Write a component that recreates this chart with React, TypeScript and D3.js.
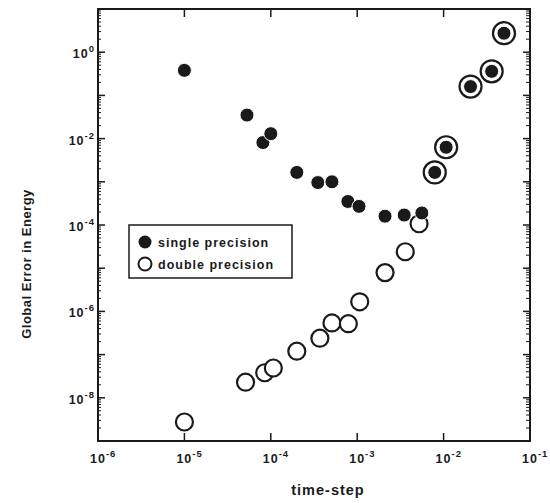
import React from 'react';
import * as d3 from 'd3';

// time-step values and errors
const singleStep = [1e-5, 5.3e-5, 8.1e-5, 1.0e-4, 2.0e-4, 3.5e-4, 5.1e-4, 7.8e-4, 1.05e-3, 2.1e-3, 3.5e-3, 5.6e-3, 7.9e-3, 1.07e-2, 2.05e-2, 3.6e-2, 5.0e-2];
const singleErr = [0.38, 0.035, 8.1e-3, 1.3e-2, 1.65e-3, 9.6e-4, 1.0e-3, 3.5e-4, 2.7e-4, 1.6e-4, 1.7e-4, 1.9e-4, 1.65e-3, 6.3e-3, 0.16, 0.36, 2.75];

const doubleStep = [1e-5, 5.1e-5, 8.5e-5, 1.07e-4, 2.0e-4, 3.7e-4, 5.1e-4, 7.9e-4, 1.07e-3, 2.1e-3, 3.6e-3, 5.2e-3, 7.9e-3, 1.07e-2, 2.05e-2, 3.6e-2, 5.0e-2];
const doubleErr = [2.75e-9, 2.3e-8, 3.8e-8, 4.9e-8, 1.2e-7, 2.4e-7, 5.4e-7, 5.2e-7, 1.67e-6, 7.9e-6, 2.4e-5, 1.07e-4, 1.65e-3, 6.3e-3, 0.16, 0.36, 2.75];

const xTickExp = [-6, -5, -4, -3, -2, -1];
const yTickExp = [1, 0, -1, -2, -3, -4, -5, -6, -7, -8, -9];
const yLabelExp = [0, -2, -4, -6, -8];

const legendItems = ['single precision', 'double precision'];

const W = 550;
const H = 503;
const margin = { top: 9, right: 20, bottom: 62, left: 98 };
const ink = '#1a1a1a';
const font = '"Liberation Sans", Arial, sans-serif';

const App = () => {
  const x = d3.scaleLog().domain([1e-6, 1e-1]).range([margin.left, W - margin.right]);
  const y = d3.scaleLog().domain([1e-9, 1e1]).range([H - margin.bottom, margin.top]);
  const [x0, x1] = x.range();
  const [y0, y1] = y.range();

  const single = singleStep.map((s, i) => ({ s, e: singleErr[i] }));
  const dbl = doubleStep.map((s, i) => ({ s, e: doubleErr[i] }));
  // double points sitting on a single point get drawn as a ring
  const overlaps = (d) => single.some(p => p.s === d.s && p.e === d.e);

  const minorY = [];
  yTickExp.slice(1).forEach(ex => {
    for (let k = 2; k <= 9; k++) minorY.push(k * Math.pow(10, ex));
  });

  return (
    <svg width={W} height={H} style={{ position: 'absolute', left: 0, top: 0, background: '#fff' }}>
      {/* minor y ticks */}
      {minorY.map((v, i) => (
        <g key={'m' + i}>
          <line x1={x0} x2={x0 + 3} y1={y(v)} y2={y(v)} stroke={ink} strokeWidth={1} />
          <line x1={x1} x2={x1 - 4} y1={y(v)} y2={y(v)} stroke={ink} strokeWidth={1} />
        </g>
      ))}
      {/* major y ticks */}
      {yTickExp.map(ex => {
        const yy = y(Math.pow(10, ex));
        return (
          <g key={'y' + ex}>
            <line x1={x0} x2={x0 + 7} y1={yy} y2={yy} stroke={ink} strokeWidth={1.5} />
            <line x1={x1} x2={x1 - 7} y1={yy} y2={yy} stroke={ink} strokeWidth={1.5} />
          </g>
        );
      })}
      {yLabelExp.map(ex => (
        <text key={'yl' + ex} x={x0 - 3} y={y(Math.pow(10, ex)) + 6} textAnchor="end"
          fontFamily={font} fontWeight="bold" fontSize={12.5} letterSpacing={1} fill={ink}>
          10<tspan fontSize={9.5} dy={-6}>{ex === 0 ? '0' : ex}</tspan>
        </text>
      ))}
      {/* x ticks */}
      {xTickExp.map(ex => {
        const xx = x(Math.pow(10, ex));
        return (
          <g key={'x' + ex}>
            <line x1={xx} x2={xx} y1={y0} y2={y0 - 8} stroke={ink} strokeWidth={1.5} />
            <line x1={xx} x2={xx} y1={y1} y2={y1 + 8} stroke={ink} strokeWidth={1.5} />
            <text x={xx - 8} y={y0 + 22} fontFamily={font} fontWeight="bold" fontSize={12.5} letterSpacing={1} fill={ink}>
              10<tspan fontSize={9.5} dy={-6}>{ex}</tspan>
            </text>
          </g>
        );
      })}
      <rect x={x0} y={y1} width={x1 - x0} height={y0 - y1} fill="none" stroke={ink} strokeWidth={2} />

      {/* double precision */}
      {dbl.map((d, i) => (
        <circle key={'d' + i} cx={x(d.s)} cy={y(d.e)} r={overlaps(d) ? 11 : 8.5}
          fill="#fff" stroke={ink} strokeWidth={2.2} />
      ))}
      {/* single precision */}
      {single.map((d, i) => (
        <circle key={'s' + i} cx={x(d.s)} cy={y(d.e)} r={7} fill={ink}
          stroke="#fff" strokeWidth={1} />
      ))}

      {/* legend */}
      <rect x={129} y={225} width={163} height={53} fill="#fff" stroke={ink} strokeWidth={1.5} />
      {legendItems.map((t, i) => (
        <g key={t}>
          {i === 0
            ? <circle cx={145} cy={242 + i * 22} r={6.5} fill={ink} />
            : <circle cx={145} cy={242 + i * 22} r={6.5} fill="#fff" stroke={ink} strokeWidth={2} />}
          <text x={158} y={246.5 + i * 22} fontFamily={font} fontWeight="bold" fontSize={12.5} letterSpacing={1} fill={ink}>{t}</text>
        </g>
      ))}

      {/* axis titles */}
      <text x={328} y={495} textAnchor="middle" fontFamily={font} fontWeight="bold" fontSize={14.5} letterSpacing={1} fill={ink}>time-step</text>
      <text transform={`translate(31,${264}) rotate(-90)`} textAnchor="middle" fontFamily={font} fontWeight="bold" fontSize={13} letterSpacing={0.5} fill={ink}>Global Error in Energy</text>
    </svg>
  );
};

export default App;
